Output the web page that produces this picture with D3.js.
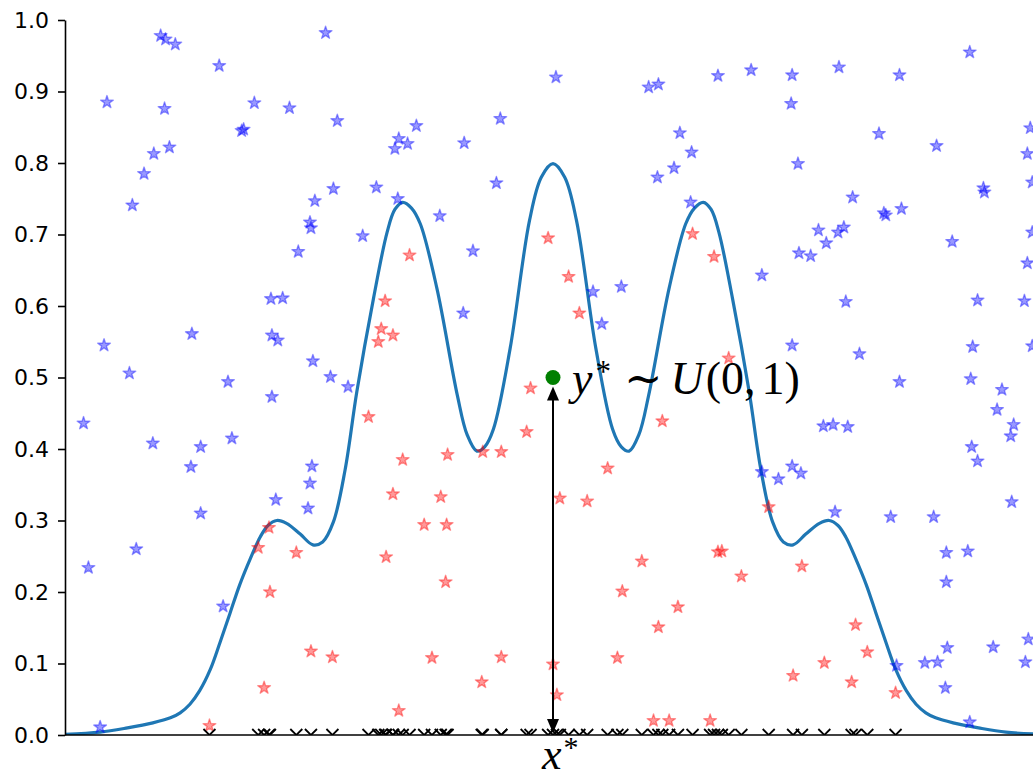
<!DOCTYPE html>
<html>
<head>
<meta charset="utf-8">
<script src="https://cdn.jsdelivr.net/npm/d3@7"></script>
<style>
  html, body { margin: 0; padding: 0; background: #fff; }
  svg { display: block; }
</style>
</head>
<body>
<svg id="chart" width="1033" height="778"></svg>
<script>
// Target density p(x), sampled along x
const curveX = [-5.00,-4.64,-4.36,-4.10,-3.92,-3.82,-3.72,-3.62,-3.51,-3.41,-3.31,-3.21,-3.10,-3.00,-2.92,-2.83,-2.73,-2.59,-2.46,-2.36,-2.25,-2.13,-2.01,-1.84,-1.70,-1.62,-1.54,-1.45,-1.36,-1.19,-0.98,-0.88,-0.78,-0.70,-0.61,-0.44,-0.24,-0.12,0.00,
  0.12,0.24,0.44,0.61,0.70,0.78,0.88,0.98,1.19,1.36,1.45,1.54,1.62,1.70,1.84,2.01,2.13,2.25,2.36,2.46,2.59,2.73,2.83,2.92,3.00,3.10,3.21,3.31,3.41,3.51,3.62,3.72,3.82,3.92,4.10,4.36,4.64,5.00];
const curveY = [0.001,0.004,0.010,0.017,0.024,0.031,0.043,0.062,0.092,0.130,0.170,0.210,0.247,0.277,0.293,0.300,0.296,0.281,0.266,0.270,0.298,0.371,0.480,0.610,0.703,0.735,0.745,0.737,0.715,0.625,0.475,0.420,0.397,0.403,0.428,0.540,0.720,0.780,0.799,
  0.780,0.720,0.540,0.428,0.403,0.397,0.420,0.475,0.625,0.715,0.737,0.745,0.735,0.703,0.610,0.480,0.371,0.298,0.270,0.266,0.281,0.296,0.300,0.293,0.277,0.247,0.210,0.170,0.130,0.092,0.062,0.043,0.031,0.024,0.017,0.010,0.004,0.001];

// Proposals that landed above the density (rejected)
const rejectedX = [-4.02,-3.97,-3.87,-2.33,-3.42,-4.57,-3.98,-3.06,-2.70,0.03,
  0.98,1.08,1.69,2.03,2.45,2.93,3.55,4.27,2.44,-2.21,
  -0.54,-3.19,-3.17,-3.93,-4.09,-4.19,-4.31,-1.40,-1.58,-1.62,
  -1.49,-0.91,-1.81,-2.25,-1.59,-0.58,1.07,1.24,1.30,1.42,
  2.51,3.34,3.93,4.89,4.86,4.91,4.41,4.42,-2.44,-2.49,
  -2.48,-2.61,-1.16,-1.95,-0.82,1.41,3.07,3.39,3.41,3.57,
  2.72,2.80,2.92,2.98,2.52,2.64,4.09,4.91,4.86,2.14,
  -2.89,-2.77,-2.88,-2.82,-3.70,-4.60,3.00,4.35,4.83,2.45,
  4.30,4.91,-0.92,0.41,0.70,0.50,3.14,-2.46,-4.34,-2.28,
  -2.10,-3.33,3.55,4.28,4.60,-2.88,4.55,-4.81,2.77,2.87,
  3.02,4.72,4.69,-3.29,-4.10,-3.61,4.29,4.35,-3.71,-2.47,
  -2.49,2.14,2.31,2.45,2.54,-2.84,-2.51,-3.61,4.70,2.89,
  3.46,3.90,-4.76,-4.27,-3.38,-4.64,4.03,4.25,4.03,4.04,
  3.81,3.94,4.02,4.51,4.87,4.84,4.27,3.52];
const rejectedY = [0.978,0.973,0.966,0.982,0.936,0.885,0.876,0.884,0.877,0.920,
  0.906,0.910,0.922,0.930,0.923,0.934,0.923,0.955,0.883,0.859,
  0.862,0.845,0.847,0.822,0.813,0.785,0.741,0.852,0.834,0.820,
  0.827,0.828,0.766,0.764,0.750,0.772,0.780,0.793,0.842,0.815,
  0.799,0.841,0.824,0.849,0.813,0.773,0.765,0.759,0.747,0.717,
  0.709,0.676,0.726,0.698,0.677,0.745,0.752,0.730,0.727,0.736,
  0.706,0.688,0.703,0.710,0.674,0.670,0.690,0.703,0.660,0.643,
  0.610,0.611,0.559,0.552,0.561,0.545,0.606,0.608,0.607,0.545,
  0.543,0.544,0.590,0.620,0.627,0.575,0.533,0.523,0.506,0.501,
  0.487,0.494,0.494,0.498,0.483,0.473,0.455,0.436,0.432,0.434,
  0.431,0.434,0.418,0.415,0.408,0.403,0.403,0.383,0.375,0.376,
  0.352,0.368,0.358,0.376,0.366,0.329,0.317,0.310,0.326,0.312,
  0.305,0.305,0.234,0.260,0.180,0.011,0.255,0.257,0.214,0.122,
  0.101,0.102,0.066,0.123,0.134,0.102,0.018,0.097];

// Proposals that landed under the density (accepted)
const acceptedX = [-0.05,-1.47,1.43,1.65,-1.72,-1.76,-1.79,-1.64,-1.89,0.16,
  0.27,-0.23,-0.27,-1.54,-1.08,-0.72,-0.53,1.12,0.56,1.80,
  -1.64,-1.15,0.07,0.35,2.21,-1.32,-1.09,-2.91,-3.02,-2.63,
  -1.71,1.69,1.73,1.93,0.91,2.55,-2.90,0.71,-1.10,1.28,
  1.08,3.10,3.22,2.78,-2.48,-2.26,-1.24,-0.53,0.00,0.66,
  2.46,3.06,-0.73,-2.96,3.51,0.04,-1.58,-3.52,1.03,1.19,
  1.61];
const acceptedY = [0.695,0.671,0.701,0.669,0.607,0.568,0.550,0.559,0.445,0.641,
  0.590,0.485,0.424,0.385,0.392,0.396,0.396,0.439,0.373,0.527,
  0.337,0.333,0.331,0.327,0.319,0.294,0.294,0.290,0.262,0.255,
  0.249,0.256,0.257,0.222,0.243,0.236,0.200,0.201,0.214,0.179,
  0.151,0.154,0.116,0.101,0.117,0.109,0.108,0.109,0.099,0.108,
  0.083,0.074,0.074,0.066,0.059,0.056,0.034,0.013,0.020,0.020,
  0.020];

const yTicks = [0.0,0.1,0.2,0.3,0.4,0.5,0.6,0.7,0.8,0.9,1.0];
const xStar = 0.0;
const yStar = 0.5;

// ---- layout ----
const svg = d3.select("#chart");
const plot = { left: 65, right: 1041, top: 20, bottom: 735 };

const x = d3.scaleLinear().domain([-5, 5]).range([plot.left, plot.right]);
const y = d3.scaleLinear().domain([0, 1]).range([plot.bottom, plot.top]);

svg.append("defs").append("clipPath").attr("id", "plot-clip")
  .append("rect")
  .attr("x", plot.left).attr("y", plot.top)
  .attr("width", plot.right - plot.left).attr("height", plot.bottom - plot.top);

const inner = svg.append("g").attr("clip-path", "url(#plot-clip)");

// density curve
const density = curveX.map((v, i) => [v, curveY[i]]);
inner.append("path")
  .datum(density)
  .attr("fill", "none")
  .attr("stroke", "#1f77b4")
  .attr("stroke-width", 3.2)
  .attr("stroke-linejoin", "round")
  .attr("d", d3.line().x(d => x(d[0])).y(d => y(d[1])).curve(d3.curveCatmullRom.alpha(0.5)));

// stars
const star = d3.symbol().type(d3.symbolStar).size(50);
function drawStars(xs, ys, color) {
  inner.append("g")
    .selectAll("path")
    .data(xs.map((v, i) => [v, ys[i]]))
    .join("path")
    .attr("transform", d => `translate(${x(d[0])},${y(d[1])})`)
    .attr("d", star)
    .attr("fill", color).attr("fill-opacity", 0.4)
    .attr("stroke", color).attr("stroke-opacity", 0.4)
    .attr("stroke-width", 1.4)
    .attr("stroke-linejoin", "round");
}
drawStars(rejectedX, rejectedY, "#0000ff");
drawStars(acceptedX, acceptedY, "#ff0000");

// accepted samples on the x axis
const cross = "M-6,-6L6,6M-6,6L6,-6";
inner.append("g")
  .selectAll("path")
  .data(acceptedX)
  .join("path")
  .attr("transform", d => `translate(${x(d)},${y(0)})`)
  .attr("d", cross)
  .attr("fill", "none")
  .attr("stroke", "#000")
  .attr("stroke-width", 1.8);

// axes
const yAxis = d3.axisLeft(y)
  .tickValues(yTicks)
  .tickFormat(d3.format(".1f"))
  .tickSize(7)
  .tickSizeOuter(0)
  .tickPadding(9);

const gy = svg.append("g")
  .attr("transform", `translate(${plot.left},0)`)
  .call(yAxis);
gy.selectAll("text")
  .attr("font-family", "DejaVu Sans, sans-serif")
  .attr("font-size", 22)
  .attr("fill", "#000");
gy.selectAll("line").attr("stroke", "#000").attr("stroke-width", 1.6);
gy.select(".domain").attr("stroke", "#000").attr("stroke-width", 1.6);

svg.append("line")
  .attr("x1", plot.left).attr("x2", plot.right)
  .attr("y1", y(0)).attr("y2", y(0))
  .attr("stroke", "#000").attr("stroke-width", 1.6);

// double-headed arrow from (x*, 0) up to (x*, y*)
const ax = x(xStar);
const yTop = y(yStar) + 9;
const yBot = y(0) - 2;
const headLen = 14, headHalf = 6;
svg.append("line")
  .attr("x1", ax).attr("x2", ax)
  .attr("y1", yTop + headLen - 2).attr("y2", yBot - headLen + 2)
  .attr("stroke", "#000").attr("stroke-width", 2);
svg.append("path")
  .attr("d", `M${ax},${yTop}L${ax - headHalf},${yTop + headLen}L${ax + headHalf},${yTop + headLen}Z`)
  .attr("fill", "#000");
svg.append("path")
  .attr("d", `M${ax},${yBot}L${ax - headHalf},${yBot - headLen}L${ax + headHalf},${yBot - headLen}Z`)
  .attr("fill", "#000");

// the sampled point (x*, y*)
svg.append("circle")
  .attr("cx", x(xStar)).attr("cy", y(yStar)).attr("r", 7.5)
  .attr("fill", "#008000");

// y* ~ U(0,1)
const mathFont = "Liberation Serif, DejaVu Serif, serif";
const lab = svg.append("text")
  .attr("x", x(xStar) + 19)
  .attr("y", y(yStar) + 16)
  .attr("font-family", mathFont)
  .attr("font-size", 46)
  .attr("fill", "#000");
lab.append("tspan").attr("font-style", "italic").text("y");
lab.append("tspan").attr("font-size", 31).attr("dy", -12).attr("dx", 3).text("*");
lab.append("tspan").attr("dy", 12).attr("dx", 13).text("\u223C");
lab.append("tspan").attr("dx", 8).attr("font-style", "italic").text("U");
lab.append("tspan").attr("dx", 2).text("(0,");
lab.append("tspan").attr("dx", 6).text("1)");

// x* tick label
const xl = svg.append("text")
  .attr("x", x(xStar) - 11)
  .attr("y", 769)
  .attr("font-family", mathFont)
  .attr("font-size", 44)
  .attr("fill", "#000");
xl.append("tspan").attr("font-style", "italic").text("x");
xl.append("tspan").attr("font-size", 30).attr("dy", -12).attr("dx", 2).text("*");
</script>
</body>
</html>
